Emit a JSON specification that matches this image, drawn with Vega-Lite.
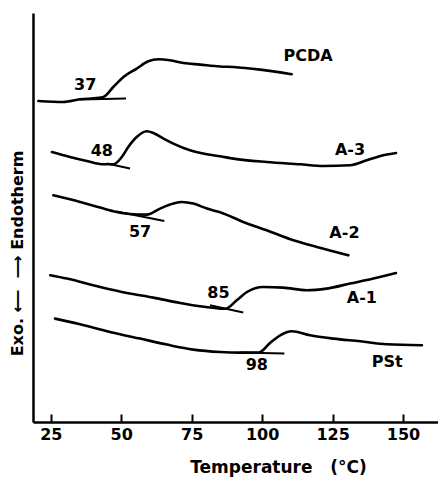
{
  "$schema": "https://vega.github.io/schema/vega-lite/v6.json",
  "autosize": "none",
  "width": 405,
  "height": 409,
  "padding": {"left": 33, "top": 13, "right": 0, "bottom": 55},
  "background": "white",
  "config": {
    "view": {"stroke": null},
    "font": "DejaVu Sans",
    "axis": {"grid": false, "domainColor": "black", "domainWidth": 2.5, "tickColor": "black", "tickWidth": 2, "labelColor": "black", "titleColor": "black", "labelFont": "DejaVu Sans", "titleFont": "DejaVu Sans", "labelFontSize": 16, "titleFontSize": 16, "labelFontWeight": "bold", "titleFontWeight": "bold"}
  },
  "datasets": {
    "curves": [
      {"series": "PCDA", "T": 20.6, "v": 321},
      {"series": "PCDA", "T": 29.5, "v": 320},
      {"series": "PCDA", "T": 35.4, "v": 322.7},
      {"series": "PCDA", "T": 41.3, "v": 324},
      {"series": "PCDA", "T": 43.7, "v": 325},
      {"series": "PCDA", "T": 47.2, "v": 335},
      {"series": "PCDA", "T": 50.8, "v": 345},
      {"series": "PCDA", "T": 55.5, "v": 353.4},
      {"series": "PCDA", "T": 59.6, "v": 360.7},
      {"series": "PCDA", "T": 63.2, "v": 362.7},
      {"series": "PCDA", "T": 67.3, "v": 361.7},
      {"series": "PCDA", "T": 72.1, "v": 359},
      {"series": "PCDA", "T": 78.0, "v": 357.4},
      {"series": "PCDA", "T": 85.1, "v": 355.5},
      {"series": "PCDA", "T": 89.7, "v": 355},
      {"series": "PCDA", "T": 99.3, "v": 352.4},
      {"series": "PCDA", "T": 110.5, "v": 347.7},
      {"series": "A-3", "T": 25.4, "v": 270},
      {"series": "A-3", "T": 31.8, "v": 265},
      {"series": "A-3", "T": 37.8, "v": 261},
      {"series": "A-3", "T": 43.7, "v": 257.7},
      {"series": "A-3", "T": 47.2, "v": 257.7},
      {"series": "A-3", "T": 50.2, "v": 265},
      {"series": "A-3", "T": 52.5, "v": 275},
      {"series": "A-3", "T": 55.5, "v": 285},
      {"series": "A-3", "T": 59.1, "v": 290.7},
      {"series": "A-3", "T": 61.4, "v": 289},
      {"series": "A-3", "T": 65.0, "v": 283.4},
      {"series": "A-3", "T": 68.5, "v": 278.4},
      {"series": "A-3", "T": 74.4, "v": 271.7},
      {"series": "A-3", "T": 80.4, "v": 267.7},
      {"series": "A-3", "T": 85.1, "v": 265.7},
      {"series": "A-3", "T": 89.8, "v": 263.4},
      {"series": "A-3", "T": 101.6, "v": 260},
      {"series": "A-3", "T": 113.5, "v": 257.7},
      {"series": "A-3", "T": 121.7, "v": 256},
      {"series": "A-3", "T": 131.2, "v": 256.7},
      {"series": "A-3", "T": 137.1, "v": 261.7},
      {"series": "A-3", "T": 143.0, "v": 266.7},
      {"series": "A-3", "T": 147.5, "v": 269},
      {"series": "A-2", "T": 25.9, "v": 226.7},
      {"series": "A-2", "T": 35.4, "v": 220},
      {"series": "A-2", "T": 42.5, "v": 214.4},
      {"series": "A-2", "T": 48.4, "v": 210},
      {"series": "A-2", "T": 54.3, "v": 207.7},
      {"series": "A-2", "T": 59.1, "v": 207.4},
      {"series": "A-2", "T": 63.8, "v": 213.4},
      {"series": "A-2", "T": 68.5, "v": 218.4},
      {"series": "A-2", "T": 71.5, "v": 220},
      {"series": "A-2", "T": 75.6, "v": 218.4},
      {"series": "A-2", "T": 80.4, "v": 213.4},
      {"series": "A-2", "T": 85.1, "v": 209.7},
      {"series": "A-2", "T": 93.3, "v": 200},
      {"series": "A-2", "T": 101.6, "v": 191.7},
      {"series": "A-2", "T": 111.1, "v": 181.7},
      {"series": "A-2", "T": 119.4, "v": 175},
      {"series": "A-2", "T": 130.6, "v": 166.7},
      {"series": "A-1", "T": 24.8, "v": 146.7},
      {"series": "A-1", "T": 30.7, "v": 143.4},
      {"series": "A-1", "T": 42.5, "v": 135},
      {"series": "A-1", "T": 52.0, "v": 129},
      {"series": "A-1", "T": 61.4, "v": 124.4},
      {"series": "A-1", "T": 70.9, "v": 119},
      {"series": "A-1", "T": 78.0, "v": 115.7},
      {"series": "A-1", "T": 85.1, "v": 113.4},
      {"series": "A-1", "T": 86.9, "v": 113.2},
      {"series": "A-1", "T": 91.0, "v": 121.7},
      {"series": "A-1", "T": 94.6, "v": 130},
      {"series": "A-1", "T": 100.4, "v": 135},
      {"series": "A-1", "T": 107.5, "v": 134.4},
      {"series": "A-1", "T": 115.8, "v": 131.7},
      {"series": "A-1", "T": 122.9, "v": 133.4},
      {"series": "A-1", "T": 131.2, "v": 138.4},
      {"series": "A-1", "T": 139.5, "v": 143.4},
      {"series": "A-1", "T": 147.5, "v": 149},
      {"series": "PSt", "T": 26.5, "v": 103.4},
      {"series": "PSt", "T": 35.4, "v": 97.7},
      {"series": "PSt", "T": 46.0, "v": 90},
      {"series": "PSt", "T": 56.7, "v": 83.4},
      {"series": "PSt", "T": 66.2, "v": 77.4},
      {"series": "PSt", "T": 75.6, "v": 72.4},
      {"series": "PSt", "T": 85.1, "v": 70},
      {"series": "PSt", "T": 92.2, "v": 69.4},
      {"series": "PSt", "T": 98.7, "v": 69.4},
      {"series": "PSt", "T": 102.8, "v": 79},
      {"series": "PSt", "T": 106.4, "v": 86.7},
      {"series": "PSt", "T": 110.5, "v": 90.7},
      {"series": "PSt", "T": 117.0, "v": 86.7},
      {"series": "PSt", "T": 125.3, "v": 83.4},
      {"series": "PSt", "T": 134.8, "v": 80.7},
      {"series": "PSt", "T": 144.2, "v": 77.7},
      {"series": "PSt", "T": 156.7, "v": 76.7}
    ],
    "tangents": [
      {"seg": "PCDA", "T": 35.4, "v": 322.5},
      {"seg": "PCDA", "T": 51.7, "v": 323.4},
      {"seg": "A-3", "T": 44.9, "v": 258.4},
      {"seg": "A-3", "T": 53.1, "v": 253.4},
      {"seg": "A-2", "T": 48.4, "v": 210.5},
      {"seg": "A-2", "T": 65.3, "v": 201},
      {"seg": "A-1", "T": 81.5, "v": 116.7},
      {"seg": "A-1", "T": 93.3, "v": 109.4},
      {"seg": "PSt", "T": 92.2, "v": 69.4},
      {"seg": "PSt", "T": 107.9, "v": 68.4}
    ],
    "labels": [
      {"label": "37", "T": 37.2, "v": 336.7},
      {"label": "48", "T": 43.1, "v": 270.7},
      {"label": "57", "T": 56.7, "v": 190},
      {"label": "85", "T": 84.5, "v": 129},
      {"label": "98", "T": 98.1, "v": 56.7},
      {"label": "PCDA", "T": 116.3, "v": 365.7},
      {"label": "A-3", "T": 131.2, "v": 271.7},
      {"label": "A-2", "T": 129.2, "v": 189},
      {"label": "A-1", "T": 135.4, "v": 124.4},
      {"label": "PSt", "T": 144.4, "v": 59.7}
    ]
  },
  "encoding": {
    "x": {
      "field": "T", "type": "quantitative",
      "scale": {"domain": [18.7, 162.4], "nice": false, "zero": false},
      "axis": {"values": [25, 50, 75, 100, 125, 150], "tickSize": -8, "labelPadding": 12, "labelFlush": false, "title": "Temperature\u00a0\u00a0\u00a0(°C)", "titleFontSize": 17, "titleX": 245, "titleY": 50, "titleAlign": "center", "titleBaseline": "alphabetic"}
    },
    "y": {
      "field": "v", "type": "quantitative",
      "scale": {"domain": [0, 409], "nice": false, "zero": false},
      "axis": {"labels": false, "ticks": false, "title": "Exo.\u00a0⟵\u00a0\u00a0⟶\u00a0Endotherm", "titleX": -16, "titleY": 240, "titleAlign": "center", "titleBaseline": "middle", "titleAngle": -90}
    }
  },
  "layer": [
    {
      "data": {"name": "curves"},
      "mark": {"type": "line", "color": "black", "strokeWidth": 2.6, "strokeCap": "round", "strokeJoin": "round", "interpolate": "monotone"},
      "encoding": {"detail": {"field": "series"}}
    },
    {
      "data": {"name": "tangents"},
      "mark": {"type": "line", "color": "black", "strokeWidth": 2, "strokeCap": "butt"},
      "encoding": {"detail": {"field": "seg"}}
    },
    {
      "data": {"name": "labels"},
      "mark": {"type": "text", "color": "black", "font": "DejaVu Sans", "fontSize": 16, "fontWeight": "bold", "align": "center", "baseline": "middle"},
      "encoding": {"text": {"field": "label"}}
    }
  ]
}
